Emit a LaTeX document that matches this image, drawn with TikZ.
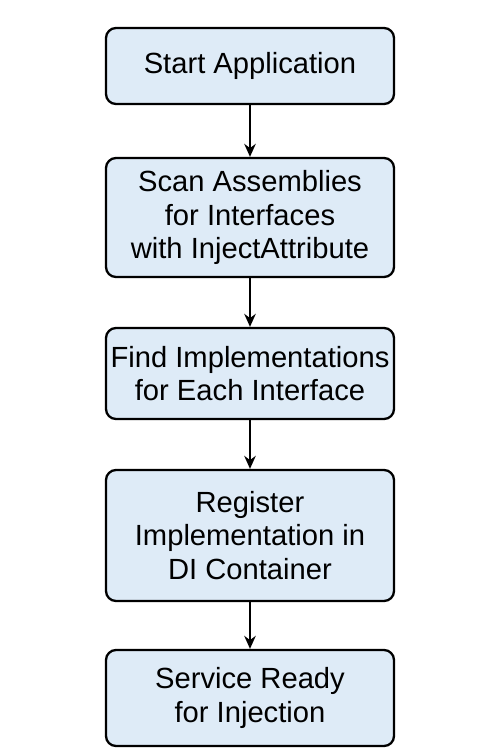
\documentclass[tikz,border=0pt]{standalone}
\usepackage{fontspec}
\setmainfont{Liberation Sans}
\usepackage{xcolor}
\usetikzlibrary{arrows.meta}
\definecolor{boxblue}{RGB}{222,235,247}

\begin{document}
\begin{tikzpicture}[every node/.style={rectangle, rounded corners=0.2cm, draw, line width=1.3pt, fill=boxblue, minimum width=5.76cm, inner sep=0pt, align=center, font=\fontsize{16.6}{19.2}\selectfont}]
        \useasboundingbox (0,0) rectangle (10,-15);

        % Passi
        \node (start) at (5,-1.32) [minimum height=1.52cm] {Start Application};
        \node (scan) at (5,-4.35) [minimum height=2.38cm] {Scan Assemblies\\for Interfaces\\with InjectAttribute};
        \node (find) at (5,-7.47) [minimum height=1.82cm] {Find Implementations\\for Each Interface};
        \node (register) at (5,-10.71) [minimum height=2.62cm] {Register\\Implementation in\\DI Container};
        \node (ready) at (5,-13.96) [minimum height=1.92cm] {Service Ready\\for Injection};

        % Collegamenti
        \draw[line width=1.1pt, -{Stealth[length=2.6mm, width=2.3mm]}] (start) -- (scan);
        \draw[line width=1.1pt, -{Stealth[length=2.6mm, width=2.3mm]}] (scan) -- (find);
        \draw[line width=1.1pt, -{Stealth[length=2.6mm, width=2.3mm]}] (find) -- (register);
        \draw[line width=1.1pt, -{Stealth[length=2.6mm, width=2.3mm]}] (register) -- (ready);
    \end{tikzpicture}
\end{document}
